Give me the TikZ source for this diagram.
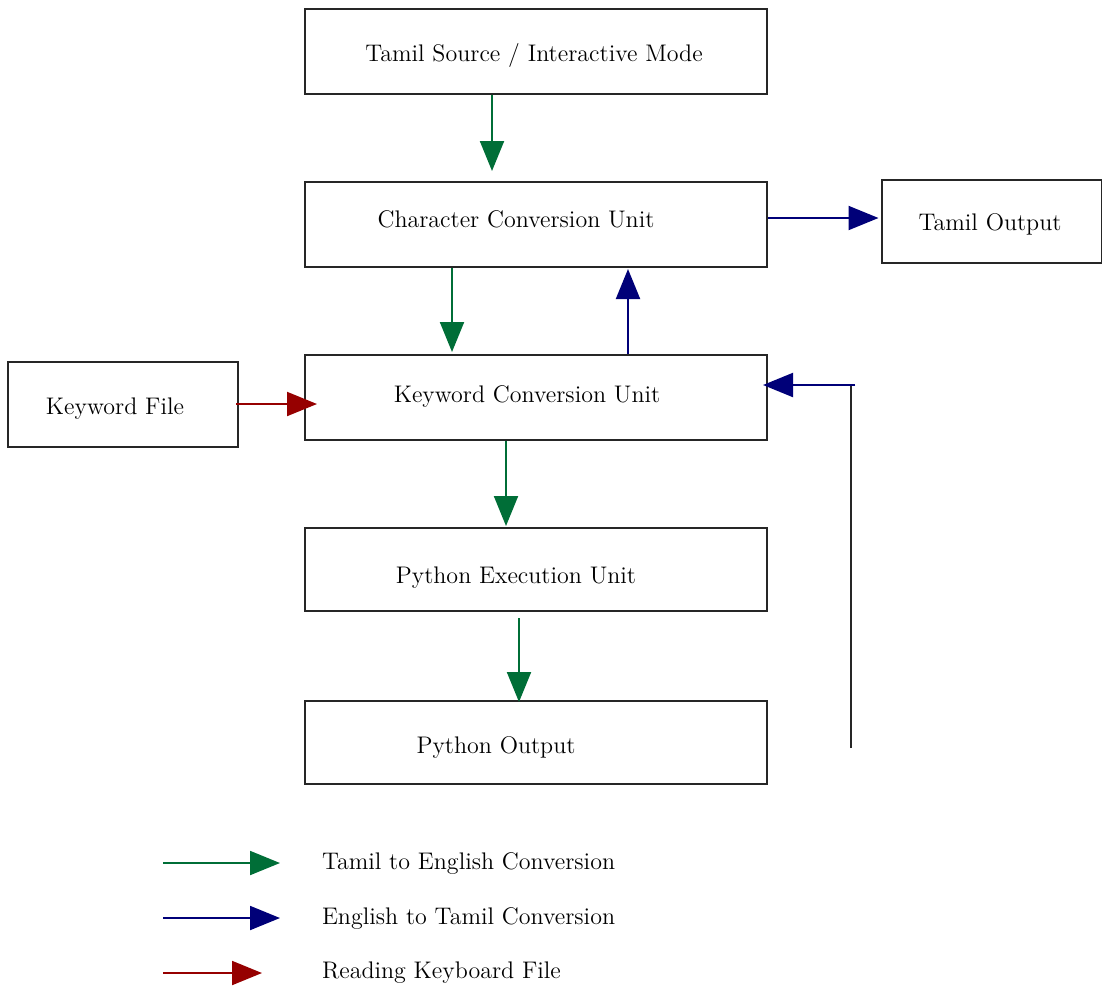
\documentclass[tikz,border=0pt]{standalone}
\usetikzlibrary{arrows.meta,calc,positioning}
\definecolor{tegreen}{RGB}{0,110,55}
\definecolor{etblue}{RGB}{0,0,120}
\definecolor{kfred}{RGB}{150,0,0}

\begin{document}
\begin{tikzpicture}[x=0.5pt,y=-0.5pt,
        box/.style={draw=black!85,line width=1pt,minimum width=231pt,minimum height=42.5pt,inner sep=0pt},
        smallbox/.style={box,minimum width=115pt},
        lbl/.style={font=\fontsize{12}{14}\selectfont,inner sep=0pt},
        flow/.style={line width=1pt,-{Triangle[length=15pt,width=12pt]}},
        t2e/.style={flow,draw=tegreen,fill=tegreen},
        e2t/.style={flow,draw=etblue,fill=etblue},
        rkf/.style={flow,draw=kfred,fill=kfred}]
        \useasboundingbox (0,0) rectangle (1102,992);
        % boxes
        \node[box] (src) at (536,51) {};
        \node[box] (ccu) at (536,224.5) {};
        \node[box,minimum width=110pt,minimum height=41.5pt] (tout) at (991.5,221.5) {};
        \node[smallbox] (kwf) at (123,404.5) {};
        \node[box] (kcu) at (536,397.5) {};
        \node[box,minimum height=41.5pt] (peu) at (536,569.5) {};
        \node[box,minimum height=41.5pt] (pout) at (536,742.5) {};
        % labels
        \node[lbl] at (534,55) {Tamil Source / Interactive Mode};
        \node[lbl] at (516,219) {Character Conversion Unit};
        \node[lbl] at (990,224) {Tamil Output};
        \node[lbl] at (115,409) {Keyword File};
        \node[lbl] at (527,396) {Keyword Conversion Unit};
        \node[lbl] at (516,578) {Python Execution Unit};
        \node[lbl] at (496,747) {Python Output};
        % connectors
        \coordinate (fbtop) at (855,385);
        \coordinate (fbbot) at (851,748);
        \draw[t2e] (src.south -| 492,0) -- ($(ccu.north -| 492,0)+(0,-10)$);
        \draw[e2t] (ccu.east |- 0,218) -- ($(tout.west |- 0,218)+(-2,0)$);
        \draw[t2e] (ccu.south -| 452,0) -- ($(kcu.north -| 452,0)+(0,-2)$);
        \draw[e2t] (kcu.north -| 628,0) -- ($(ccu.south -| 628,0)+(0,1)$);
        \draw[rkf] ($(kwf.east |- 0,404)+(-3,0)$) -- ($(kcu.west |- 0,404)+(13,0)$);
        \draw[t2e] (kcu.south -| 506,0) -- ($(peu.north -| 506,0)+(0,-1)$);
        \draw[t2e] ($(peu.south -| 519,0)+(0,6)$) -- ($(pout.north -| 519,0)+(0,2)$);
        \draw[black!85,line width=1pt] (fbbot) -- (fbbot |- fbtop);
        \draw[e2t] (fbtop) -- ($(kcu.east |- fbtop)+(-5,0)$);
        % legend
        \coordinate (l1) at (163,863);
        \coordinate (l2) at (163,918);
        \coordinate (l3) at (163,973);
        \draw[t2e] (l1) -- ++(117,0) node[lbl,anchor=west,xshift=20.5pt] (lt1) {Tamil to English Conversion};
        \draw[e2t] (l2) -- ++(117,0) node[lbl,anchor=west,xshift=20.5pt] (lt2) {English to Tamil Conversion};
        \draw[rkf] (l3) -- ++(99,0) node[lbl,anchor=west,xshift=29.5pt] (lt3) {Reading Keyboard File};
\end{tikzpicture}
\end{document}
